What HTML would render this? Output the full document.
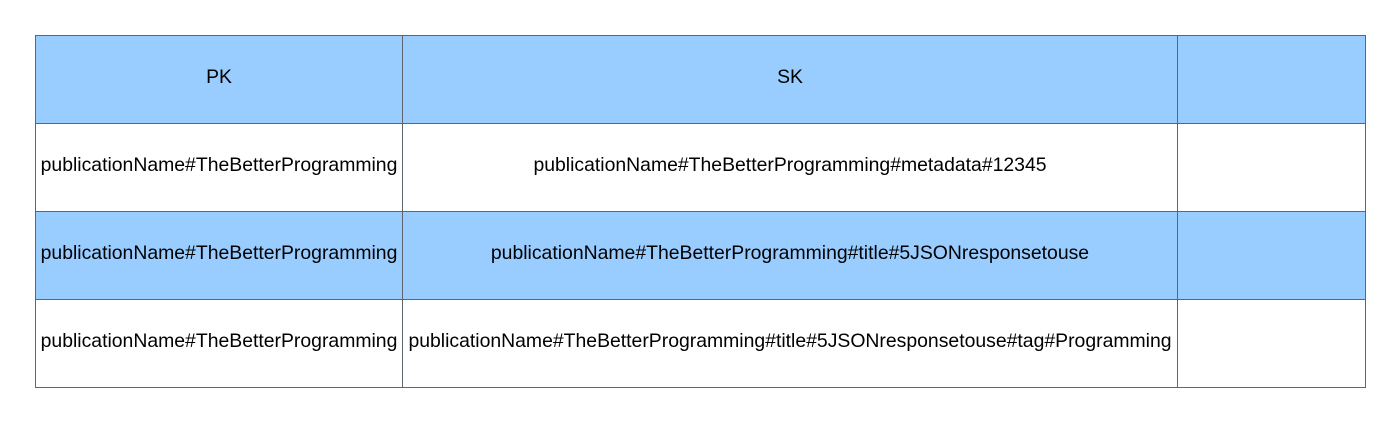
<!DOCTYPE html>
<html><head><style>
body{margin:0;width:1400px;height:422px;background:#fff;position:relative;font-family:"Liberation Sans",sans-serif;font-size:19.4px;color:#000}
.c{position:absolute;box-sizing:border-box;border:1px solid #5f6670;display:flex;align-items:center;justify-content:center;white-space:nowrap;padding-bottom:5px}
.b{background:#99ccff}
</style></head><body>
<div class="c b" style="left:35px;top:35px;width:368px;height:89px">PK</div>
<div class="c b" style="left:402px;top:35px;width:776px;height:89px">SK</div>
<div class="c b" style="left:1177px;top:35px;width:189px;height:89px"></div>

<div class="c" style="left:35px;top:123px;width:368px;height:89px">publicationName#TheBetterProgramming</div>
<div class="c" style="left:402px;top:123px;width:776px;height:89px">publicationName#TheBetterProgramming#metadata#12345</div>
<div class="c" style="left:1177px;top:123px;width:189px;height:89px"></div>

<div class="c b" style="left:35px;top:211px;width:368px;height:89px">publicationName#TheBetterProgramming</div>
<div class="c b" style="left:402px;top:211px;width:776px;height:89px">publicationName#TheBetterProgramming#title#5JSONresponsetouse</div>
<div class="c b" style="left:1177px;top:211px;width:189px;height:89px"></div>

<div class="c" style="left:35px;top:299px;width:368px;height:89px">publicationName#TheBetterProgramming</div>
<div class="c" style="left:402px;top:299px;width:776px;height:89px">publicationName#TheBetterProgramming#title#5JSONresponsetouse#tag#Programming</div>
<div class="c" style="left:1177px;top:299px;width:189px;height:89px"></div>
</body></html>
